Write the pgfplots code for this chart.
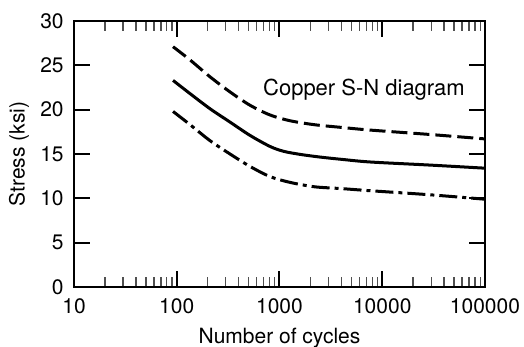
\documentclass[border=0pt]{standalone}
\usepackage{pgfplots}
\pgfplotsset{compat=1.18}
\usepackage{fontspec}
\setmainfont{TeX Gyre Heros}
\definecolor{tickgray}{RGB}{80,80,80}
\begin{document}
\fontsize{10.5}{12}\selectfont
\begin{tikzpicture}
\begin{axis}[
 xmode=log, xmin=10, xmax=100000, ymin=0, ymax=30,
 scale only axis, width=205.5pt, height=133pt,
 ytick={0,5,...,30},
 xtick={10,100,1000,10000,100000},
 xticklabels={10,100,1000,10000,100000},
 minor ytick={5,10,15,20,25},
 minor xtick={20,30,40,50,60,70,80,90,100,200,300,400,500,600,700,800,900,1000,2000,3000,4000,5000,6000,7000,8000,9000,10000,20000,30000,40000,50000,60000,70000,80000,90000},
 tick align=inside,
 major tick length=8pt, minor tick length=5pt,
 axis line style={line width=0.9pt},
 every major tick/.style={line width=1pt, black},
 every minor tick/.style={line width=0.7pt, draw=tickgray},
 xlabel={Number of cycles}, ylabel={Stress (ksi)},
 /pgf/number format/assume math mode=true,
 tick label style={font=\fontsize{10.5}{12}\selectfont},
 label style={font=\fontsize{10.5}{12}\selectfont},
 xticklabel style={yshift=-2pt},
 yticklabel style={xshift=-1.5pt},
 ylabel style={at={(rel axis cs:0,0.5)}, anchor=center, yshift=27.5pt},
 xlabel style={at={(rel axis cs:0.5,0)}, anchor=base, yshift=-28pt},
 clip=false,
]
\addplot[black, line width=1.5pt, smooth, dash pattern=on 8pt off 3pt] coordinates {
 (92,27.1) (135,25.6) (211,23.7) (330,22.0) (516,20.5) (809,19.4) (1266,18.75) (2200,18.3) (4000,18.0) (7600,17.7) (29200,17.2) (100000,16.7)};
\addplot[black, line width=1.5pt, smooth] coordinates {
 (92,23.3) (135,21.8) (211,20.1) (330,18.6) (516,17.1) (809,15.85) (1100,15.3) (1600,14.95) (2500,14.65) (4000,14.4) (7600,14.1) (29200,13.75) (100000,13.4)};
\addplot[black, line width=1.5pt, smooth, dash pattern=on 9pt off 2.5pt on 2pt off 2.5pt] coordinates {
 (92,19.8) (135,18.3) (211,16.5) (330,15.0) (516,13.6) (809,12.45) (1266,11.8) (2200,11.3) (4000,11.1) (7600,10.86) (29200,10.4) (100000,9.9)};
\node[font=\fontsize{11}{13}\selectfont] at (axis cs:6640,22.3) {Copper S-N diagram};
\end{axis}
\pgfresetboundingbox
\path[use as bounding box] (-37pt,-30pt) rectangle (225pt,143.5pt);
\end{tikzpicture}
\end{document}
